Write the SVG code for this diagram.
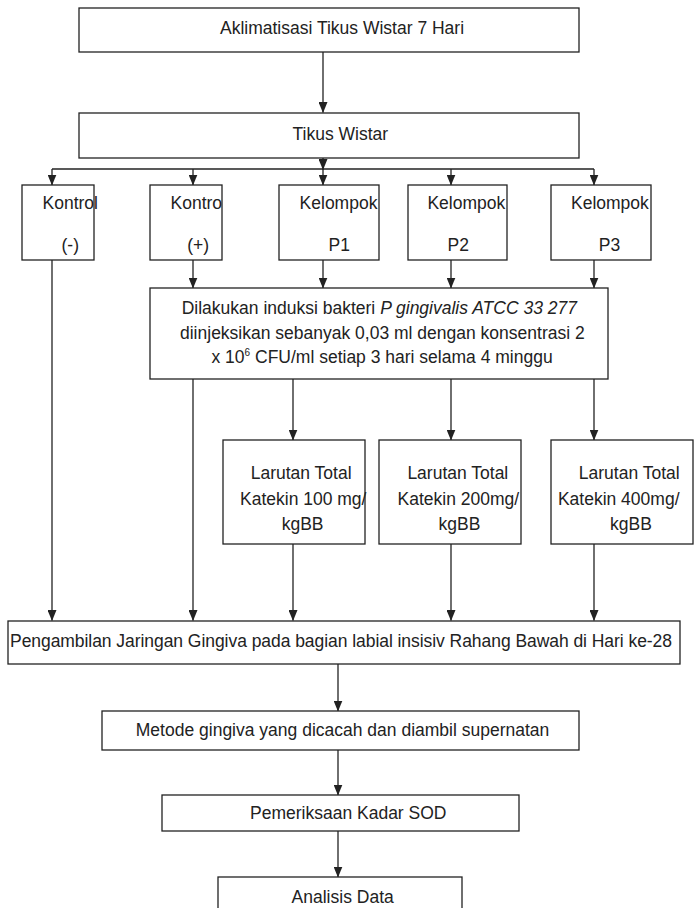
<svg xmlns="http://www.w3.org/2000/svg" width="698" height="908" viewBox="0 0 698 908">
<style>
.box{fill:#fff;stroke:#222;stroke-width:1.3}
.t{font-family:"Liberation Sans",Arial,sans-serif;font-size:17.5px;fill:#222}
.c{fill:none;stroke:#222;stroke-width:1.3}
.a{marker-end:url(#ah)}
</style>
<defs>
<marker id="ah" markerUnits="userSpaceOnUse" markerWidth="11" markerHeight="9" refX="10.5" refY="4.5" orient="auto">
<path d="M0,0 L11,4.5 L0,9 z" fill="#222"/>
</marker>
</defs>
<rect width="698" height="908" fill="#fff"/>
<g id="connectors">
<path class="c a" d="M323,52 V112.5"/>
<path class="c a" d="M323,158 V169.5"/>
<path class="c" d="M52,169 H594"/>
<path class="c a" d="M52,169 V185"/>
<path class="c a" d="M193,169 V185"/>
<path class="c a" d="M323,169 V185"/>
<path class="c a" d="M451,169 V185"/>
<path class="c a" d="M594,169 V185"/>
<path class="c a" d="M52,260 V620.5"/>
<path class="c a" d="M193,260 V288"/>
<path class="c a" d="M323,260 V288"/>
<path class="c a" d="M451,260 V288"/>
<path class="c a" d="M594,260 V288"/>
<path class="c a" d="M193,379 V620.5"/>
<path class="c a" d="M293,379 V440"/>
<path class="c a" d="M451,379 V440"/>
<path class="c a" d="M594,379 V440"/>
<path class="c a" d="M293,544 V620.5"/>
<path class="c a" d="M451,544 V620.5"/>
<path class="c a" d="M594,544 V620.5"/>
<path class="c a" d="M338,664 V711"/>
<path class="c a" d="M338,750 V795"/>
<path class="c a" d="M338,831 V877"/>
</g>
<g id="n-aklimatisasi">
<rect class="box" x="79" y="8" width="500" height="44"/>
<text class="t" x="220" y="33.5">Aklimatisasi Tikus Wistar 7 Hari</text>
</g>
<g id="n-tikus">
<rect class="box" x="79" y="113" width="500" height="45"/>
<text class="t" x="292.5" y="139.5">Tikus Wistar</text>
</g>
<g id="n-kontrol-neg">
<rect class="box" x="22" y="185" width="72" height="75"/>
<text class="t" x="42.5" y="209">Kontrol</text>
<text class="t" x="61.5" y="251">(-)</text>
</g>
<g id="n-kontrol-pos">
<rect class="box" x="150" y="185" width="72" height="75"/>
<text class="t" x="170.5" y="208.5">Kontro</text>
<text class="t" x="187.3" y="251">(+)</text>
</g>
<g id="n-p1">
<rect class="box" x="279" y="185" width="100" height="75"/>
<text class="t" x="299.6" y="209">Kelompok</text>
<text class="t" x="328.6" y="251">P1</text>
</g>
<g id="n-p2">
<rect class="box" x="408" y="185" width="99" height="75"/>
<text class="t" x="427.4" y="209">Kelompok</text>
<text class="t" x="447.5" y="251">P2</text>
</g>
<g id="n-p3">
<rect class="box" x="551" y="185" width="100" height="75"/>
<text class="t" x="571" y="209">Kelompok</text>
<text class="t" x="598.8" y="251">P3</text>
</g>
<g id="n-induksi">
<rect class="box" x="150" y="288" width="458" height="91"/>
<text class="t" x="181.7" y="314">Dilakukan induksi bakteri <tspan font-style="italic">P gingivalis ATCC 33 277</tspan></text>
<text class="t" x="180" y="339">diinjeksikan sebanyak 0,03 ml dengan konsentrasi 2</text>
<text class="t" x="211.5" y="363">x 10<tspan font-size="10" dy="-7">6</tspan><tspan dy="7"> CFU/ml setiap 3 hari selama 4 minggu</tspan></text>
</g>
<g id="n-larutan-100">
<rect class="box" x="223" y="440" width="142" height="104"/>
<text class="t" x="250.7" y="479">Larutan Total</text>
<text class="t" x="240" y="505">Katekin 100 mg/</text>
<text class="t" x="281.7" y="530">kgBB</text>
</g>
<g id="n-larutan-200">
<rect class="box" x="379" y="440" width="142" height="104"/>
<text class="t" x="407.4" y="479">Larutan Total</text>
<text class="t" x="397.6" y="505">Katekin 200mg/</text>
<text class="t" x="438.6" y="530">kgBB</text>
</g>
<g id="n-larutan-400">
<rect class="box" x="551" y="440" width="142" height="104"/>
<text class="t" x="578.8" y="479">Larutan Total</text>
<text class="t" x="557.9" y="505">Katekin 400mg/</text>
<text class="t" x="610" y="530">kgBB</text>
</g>
<g id="n-pengambilan">
<rect class="box" x="8" y="621" width="672" height="43"/>
<text class="t" x="10" y="647" textLength="662" lengthAdjust="spacing">Pengambilan Jaringan Gingiva pada bagian labial insisiv Rahang Bawah di Hari ke-28</text>
</g>
<g id="n-metode">
<rect class="box" x="102" y="711" width="477" height="39"/>
<text class="t" x="135.8" y="736">Metode gingiva yang dicacah dan diambil supernatan</text>
</g>
<g id="n-pemeriksaan">
<rect class="box" x="162" y="795" width="357" height="36"/>
<text class="t" x="250" y="819">Pemeriksaan Kadar SOD</text>
</g>
<g id="n-analisis">
<rect class="box" x="218" y="877" width="244" height="40"/>
<text class="t" x="291.6" y="903">Analisis Data</text>
</g>
</svg>
